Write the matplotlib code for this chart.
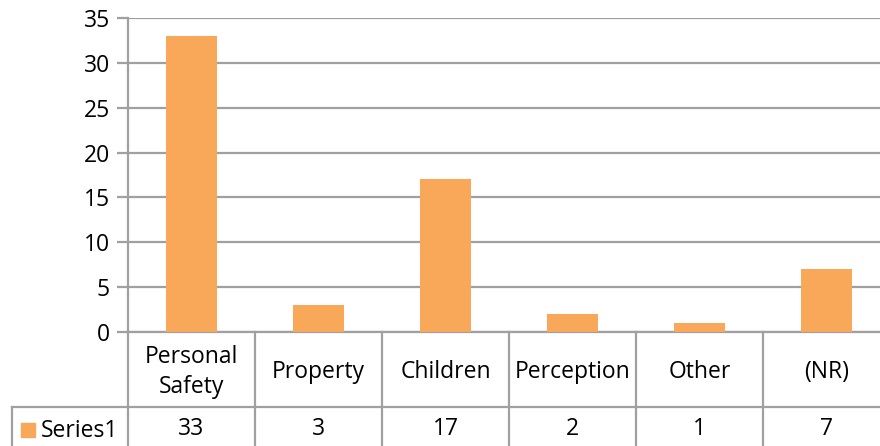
import matplotlib
matplotlib.use("Agg")
import matplotlib.pyplot as plt
from matplotlib.patches import Rectangle

categories = ["Personal\nSafety", "Property", "Children", "Perception", "Other", "(NR)"]
values = [33, 3, 17, 2, 1, 7]
series_name = "Series1"
yticks = [0, 5, 10, 15, 20, 25, 30, 35]

bar_color = "#F9A85A"
grid_color = "#A0A0A0"
plt.rcParams["font.family"] = ["Open Sans", "DejaVu Sans"]
fs = 16.5

W, H = 880, 446
fig = plt.figure(figsize=(W / 100, H / 100), dpi=100)
# plot area runs a little past the right edge of the picture
x0, x1, y0, y1 = 128, 890, 18, 332
ax = fig.add_axes([x0 / W, 1 - y1 / H, (x1 - x0) / W, (y1 - y0) / H])

n = len(categories)
xs = list(range(n))
ax.bar(xs, values, width=0.4, color=bar_color, zorder=3)
ax.set_xlim(-0.5, n - 0.5)
ax.set_ylim(0, 35)
ax.set_yticks(yticks)
ax.set_yticklabels([str(t) for t in yticks], fontsize=fs)
ax.yaxis.grid(True, color=grid_color, linewidth=1.6, zorder=0)
ax.tick_params(axis="y", length=8, width=1.6, color=grid_color, pad=5)
ax.set_xticks([])
for s in ["top", "right", "bottom"]:
    ax.spines[s].set_visible(False)
ax.spines["left"].set_color(grid_color)
ax.spines["left"].set_linewidth(1.6)

# data table under the plot
ph = y1 - y0
r1 = -(407 - y1) / ph
r2 = -(H + 5 - y1) / ph
lk = dict(color=grid_color, linewidth=1.6, clip_on=False,
          transform=ax.get_xaxis_transform())
left = -0.5 - 116 / (x1 - x0) * n
for k in range(n + 1):
    ax.plot([k - 0.5, k - 0.5], [0, r2], **lk)
ax.plot([-0.5, n - 0.5], [0, 0], **lk)
ax.plot([left, n - 0.5], [r1, r1], **lk)
ax.plot([left, left], [r1, r2], **lk)

for i, (c, v) in enumerate(zip(categories, values)):
    ax.text(i, -(372 - y1) / ph, c, ha="center", va="center", fontsize=fs,
            linespacing=1.3, transform=ax.get_xaxis_transform(), clip_on=False)
    ax.text(i, -(429 - y1) / ph, str(v), ha="center", va="center", fontsize=fs,
            transform=ax.get_xaxis_transform(), clip_on=False)

fig.patches.append(Rectangle((21 / W, 1 - 437 / H), 14 / W, 14 / H,
                             color=bar_color, transform=fig.transFigure))
fig.text(41 / W, 1 - 431 / H, series_name, ha="left", va="center", fontsize=fs)

fig.savefig("out.png", dpi=100)
